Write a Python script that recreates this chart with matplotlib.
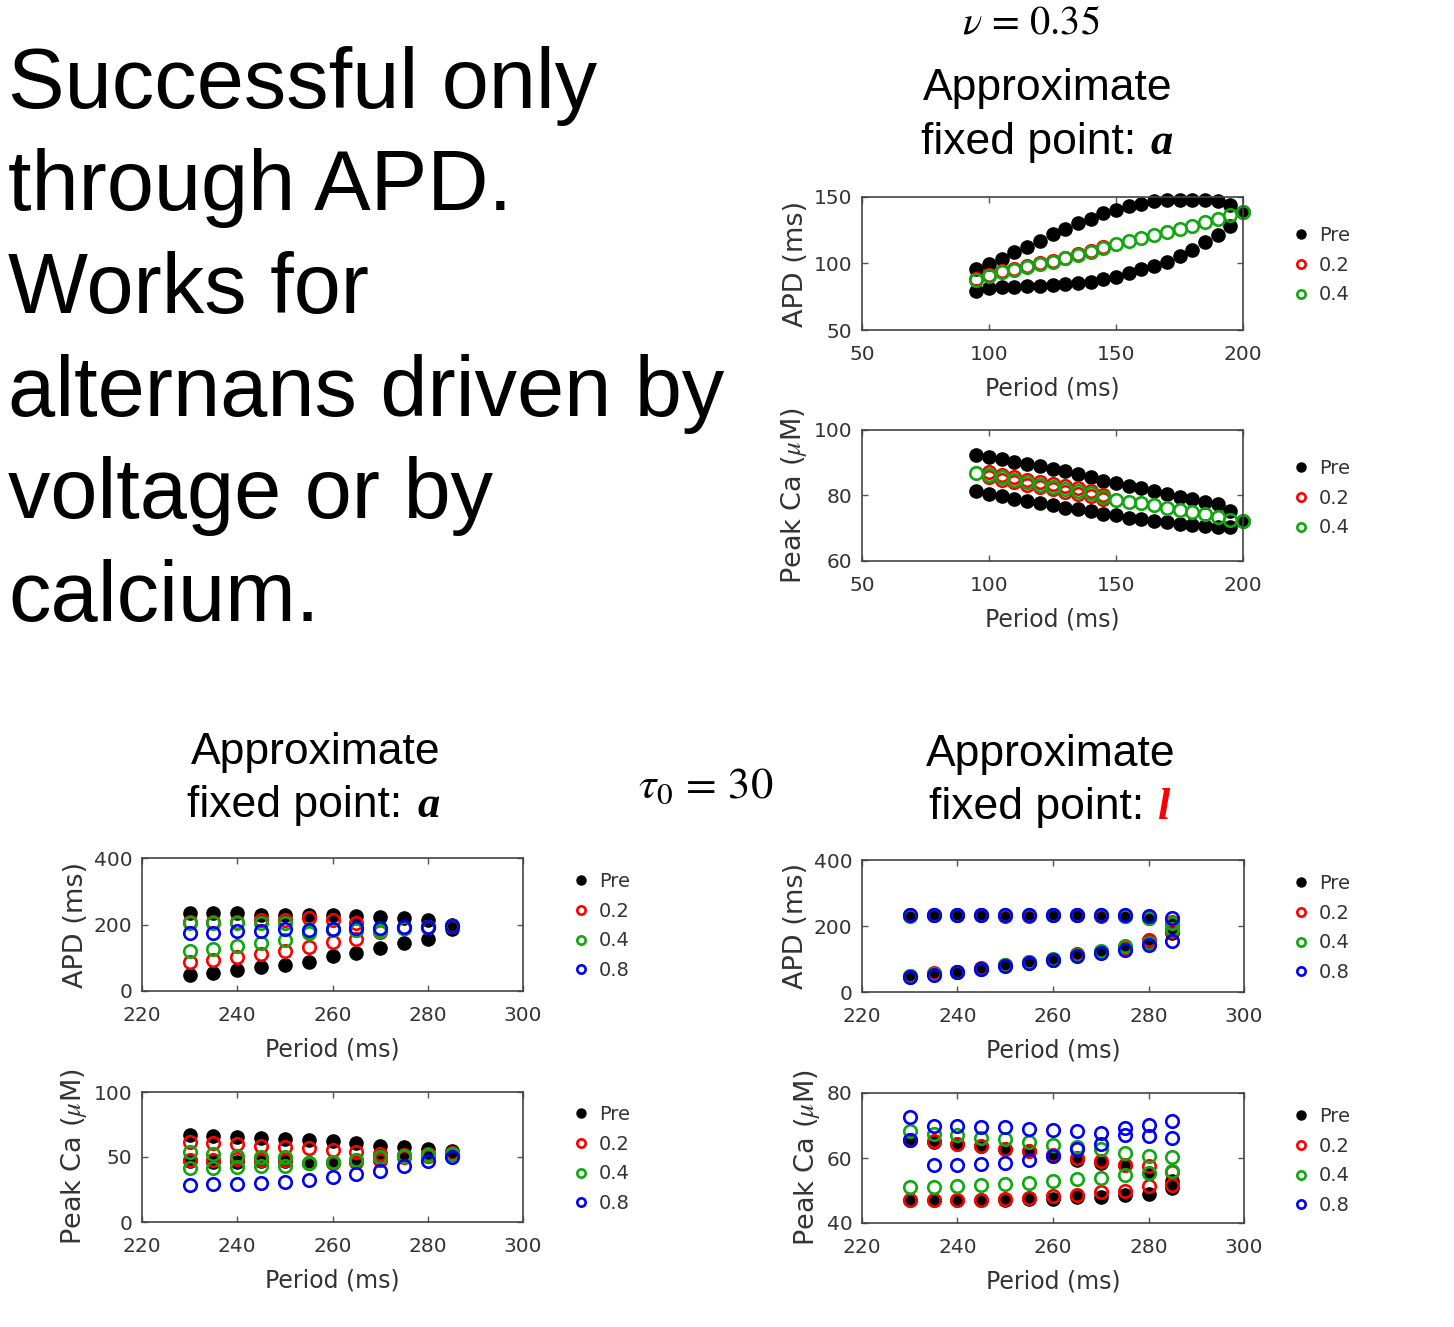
import matplotlib
matplotlib.use("Agg")
import matplotlib.pyplot as plt
from matplotlib.lines import Line2D

W, H = 1454, 1327
plt.rcParams['mathtext.fontset'] = 'stix'

# ---- data: nu = 0.35, fixed point a (top right) ----
per_top = [95, 100, 105, 110, 115, 120, 125, 130, 135, 140, 145,
           150, 155, 160, 165, 170, 175, 180, 185, 190, 195, 200]
top_apd_pre_hi = [96, 99.7, 103.5, 108.3, 112.3, 116.6, 122.1, 125.9, 130.4, 133.4, 137.9,
                  140.5, 143, 144.7, 146.7, 147.5, 148, 148, 148, 146.7, 143.7, 138.4]
top_apd_pre_lo = [79.6, 81.4, 82.2, 82.7, 83.2, 83.4, 83.9, 84.4, 85.2, 86.4, 88.2,
                  90.2, 92.7, 95.7, 98.2, 101.5, 105.3, 110.3, 115.8, 121.6, 128.4, 138.4]
per_top_02 = [95, 100, 105, 110, 115, 120, 125, 130, 135, 140, 145]
top_apd_02 = [88.5, 91.5, 94, 95.5, 98, 100, 102, 104.5, 107, 109.5, 112.5]
top_apd_04 = [87.7, 90.7, 93.5, 95.2, 97.7, 99.7, 101.5, 104, 106.5, 109, 112,
              114.6, 117.1, 119.1, 121.6, 123.4, 125.9, 127.9, 130.9, 133.4, 136.7, 138.4]

top_ca_pre_hi = [92.3, 91.8, 91.0, 90.2, 89.7, 89.0, 88.1, 87.4, 86.6, 85.8, 84.5,
                 83.7, 83.0, 82.2, 81.5, 80.6, 79.6, 78.9, 78.0, 77.3, 75.3, 72.2]
top_ca_pre_lo = [81.4, 80.4, 79.9, 78.9, 78.4, 77.8, 77.0, 76.3, 75.8, 75.3, 74.4,
                 73.9, 73.2, 72.7, 72.2, 71.9, 71.3, 70.9, 70.6, 70.3, 70.3, 72.2]
per_top_ca_02 = [100, 105, 110, 115, 120, 125, 130, 135, 140, 145]
top_ca_02_hi = [87.1, 86.4, 85.6, 84.8, 84.1, 83.5, 82.8, 82.2, 81.5, 80.3]
top_ca_02_lo = [85.6, 84.8, 84.0, 83.2, 82.5, 81.9, 81.2, 80.6, 79.9, 79.0]
top_ca_04 = [86.9, 86.4, 85.6, 84.8, 84.0, 83.3, 82.7, 82.0, 81.4, 80.7, 79.6,
             78.7, 78.1, 77.6, 77.0, 76.3, 75.6, 75.1, 74.2, 73.5, 72.5, 72.2]

# ---- data: tau0 = 30 ----
per_bot = [230, 235, 240, 245, 250, 255, 260, 265, 270, 275, 280, 285]

# fixed point a (bottom left)
bl_apd_pre_hi = [234, 234, 234, 229, 229, 229, 229, 227, 224, 221, 214, 200]
bl_apd_pre_lo = [48, 53, 63, 73, 78, 88, 104, 114, 129, 144, 157, 185]
bl_apd_02_hi = [209, 209, 209, 214, 214, 219, 214, 204, 182, 190, 192, 194]
bl_apd_02_lo = [88, 94, 101, 111, 121, 132, 147, 157, 178, 190, 192, 194]
bl_apd_04_hi = [206, 206, 206, 206, 206, 181, 186, 184, 181, 190, 192, 194]
bl_apd_04_lo = [119, 127, 134, 144, 154, 174, 184, 184, 181, 190, 192, 194]
bl_apd_08 = [174, 174, 179, 181, 186, 184, 186, 189, 189, 191, 191, 194]

bl_ca_pre_hi = [66.8, 66.3, 65.6, 64.5, 63.8, 63.0, 62.0, 60.5, 58.7, 57.9, 56.1, 54.8]
bl_ca_pre_lo = [47.2, 46.4, 46.4, 47.2, 47.2, 45.4, 45.4, 46.4, 48.0, 49.7, 51.0, 52.3]
bl_ca_02_hi = [61.2, 60.7, 59.9, 58.7, 57.9, 56.6, 55.4, 53.6, 52.3, 51.5, 52.5, 53.0]
bl_ca_02_lo = [48.0, 48.0, 48.5, 48.0, 48.0, 45.4, 45.4, 46.4, 48.0, 49.7, 51.0, 52.3]
bl_ca_04_hi = [53.6, 52.3, 51.0, 49.7, 49.7, 45.4, 46.4, 48.0, 49.7, 50.5, 51.5, 52.5]
bl_ca_04_lo = [41.3, 41.3, 42.1, 42.9, 43.4, 45.4, 46.4, 48.0, 49.7, 50.5, 51.5, 52.5]
bl_ca_08 = [28.8, 29.3, 29.3, 30.1, 30.6, 32.4, 34.4, 37.0, 39.5, 42.9, 46.7, 50.3]

# fixed point l (bottom right)
br_apd_pre_hi = [233, 233, 233, 233, 233, 233, 233, 233, 232, 232, 228, 207]
br_apd_pre_lo = [46, 56, 61, 71, 81, 89, 98, 113, 121, 134, 152, 178]
br_apd_02_hi = [233, 233, 233, 232, 231, 231, 233, 233, 230, 231, 225, 212]
br_apd_02_lo = [47, 57, 62, 74, 82, 90, 97, 116, 120, 133, 157, 185]
br_apd_04_hi = [231, 233, 233, 233, 233, 233, 233, 232, 232, 229, 224, 208]
br_apd_04_lo = [48, 56, 62, 71, 83, 90, 100, 112, 124, 138, 150, 190]
br_apd_08_hi = [233, 233, 233, 233, 233, 233, 233, 233, 233, 233, 231, 223]
br_apd_08_lo = [44, 53, 60, 69, 79, 88, 96, 109, 117, 128, 143, 154]

br_ca_pre_hi = [65.6, 64.9, 64.3, 63.6, 62.8, 62.1, 60.5, 59.5, 58.5, 58.0, 55.4, 52.8]
br_ca_pre_lo = [47.2, 47.2, 47.2, 47.2, 47.2, 47.4, 47.4, 47.9, 47.9, 48.5, 48.9, 50.8]
br_ca_02_hi = [65.6, 65.1, 64.3, 63.6, 62.8, 62.1, 61.0, 60.0, 59.0, 58.0, 57.4, 55.7]
br_ca_02_lo = [47.2, 47.2, 47.2, 47.2, 47.4, 47.7, 48.2, 48.5, 49.5, 49.9, 51.3, 51.8]
br_ca_04_hi = [68.4, 67.4, 67.0, 66.2, 65.8, 64.9, 64.1, 63.3, 62.8, 61.5, 60.7, 60.2]
br_ca_04_lo = [51.0, 51.1, 51.3, 51.8, 52.1, 52.3, 52.8, 53.5, 53.8, 54.7, 55.4, 56.1]
br_ca_08_hi = [72.6, 69.9, 69.7, 69.4, 69.4, 69.0, 68.7, 68.2, 67.7, 69.2, 70.3, 71.3]
br_ca_08_lo = [65.6, 58.0, 58.0, 58.2, 58.5, 59.5, 60.5, 62.9, 64.3, 67.2, 66.7, 66.2]

intro_lines = ["Successful only", "through APD.", "Works for",
               "alternans driven by", "voltage or by", "calcium."]
labels3 = ['Pre', '0.2', '0.4']
labels4 = ['Pre', '0.2', '0.4', '0.8']
RED, GREEN, BLUE = '#ff0000', '#10a810', '#0000ff'
TXT = '#333333'


def fx(px):
    return px / W


def fy(py):
    return 1 - py / H


def add_axes(left, top, right, bottom):
    return fig.add_axes([fx(left), fy(bottom), (right - left) / W, (bottom - top) / H])


def pre(ax, x, y):
    ax.plot(x, y, 'o', color='k', markersize=9.5, linestyle='none', clip_on=False)


def ring(ax, x, y, c):
    ax.plot(x, y, 'o', mfc='none', mec=c, mew=1.9, markersize=9, linestyle='none', clip_on=False)


def style(ax, xlim, xticks, ylim, yticks, ylabel):
    ax.set_xlim(xlim)
    ax.set_ylim(ylim)
    ax.set_xticks(xticks)
    ax.set_yticks(yticks)
    ax.tick_params(direction='in', top=True, right=True, length=4, width=1,
                   color='#555555', labelcolor=TXT, labelsize=14.5)
    ax.tick_params(axis='x', pad=11)
    ax.tick_params(axis='y', pad=7)
    for s in ax.spines.values():
        s.set_color('#444444')
        s.set_linewidth(1.2)
    ax.set_xlabel('Period (ms)', fontsize=17, color=TXT, labelpad=9)
    ax.set_ylabel(ylabel, fontsize=19.5, color=TXT, labelpad=3)


def legend(ax, labels, left, top):
    handles = [Line2D([], [], marker='o', linestyle='none', color='k', markersize=6.5)]
    for c in [RED, GREEN, BLUE][:len(labels) - 1]:
        handles.append(Line2D([], [], marker='o', linestyle='none', mfc='none',
                              mec=c, mew=1.9, markersize=6))
    ax.legend(handles, labels, loc='upper left', bbox_to_anchor=(fx(left), fy(top)),
              bbox_transform=fig.transFigure, frameon=False, fontsize=14,
              labelcolor=TXT, handlelength=1.0, handletextpad=0.45,
              labelspacing=0.55, borderpad=0, borderaxespad=0)


fig = plt.figure(figsize=(W / 100, H / 100), dpi=100)

# left block of text, one baseline per line
for i, line in enumerate(intro_lines):
    fig.text(fx(8), fy(108 + i * 102.5), line, family='Liberation Sans', fontsize=61,
             ha='left', va='baseline')

# headings
fig.text(fx(962), fy(34), r"$\nu\,=\,0.35$", fontsize=29, ha='left', va='baseline')
fig.text(fx(1048), fy(100), "Approximate", family='Liberation Sans', fontsize=32, ha='center', va='baseline')
fig.text(fx(921), fy(154), "fixed point: ", family='Liberation Sans', fontsize=32, ha='left', va='baseline')
fig.text(fx(1150), fy(154), "a", family='Liberation Serif', fontsize=32, weight='bold',
         style='italic', ha='left', va='baseline')

fig.text(fx(638), fy(798), r"$\tau_0\,=\,30$", fontsize=32, ha='left', va='baseline')

fig.text(fx(316), fy(764), "Approximate", family='Liberation Sans', fontsize=32, ha='center', va='baseline')
fig.text(fx(187), fy(817), "fixed point: ", family='Liberation Sans', fontsize=32, ha='left', va='baseline')
fig.text(fx(417), fy(817), "a", family='Liberation Serif', fontsize=32, weight='bold',
         style='italic', ha='left', va='baseline')

fig.text(fx(1051), fy(766), "Approximate", family='Liberation Sans', fontsize=32, ha='center', va='baseline')
fig.text(fx(929), fy(819), "fixed point: ", family='Liberation Sans', fontsize=32, ha='left', va='baseline')
fig.text(fx(1157), fy(819), "l", family='Liberation Serif', fontsize=32, weight='bold',
         style='italic', color=RED, ha='left', va='baseline')

# top right APD
ax = add_axes(862, 197, 1243, 330)
pre(ax, per_top, top_apd_pre_hi)
pre(ax, per_top, top_apd_pre_lo)
ring(ax, per_top_02, top_apd_02, RED)
ring(ax, per_top, top_apd_04, GREEN)
style(ax, (50, 200), [50, 100, 150, 200], (50, 150), [50, 100, 150], 'APD (ms)')
legend(ax, labels3, 1291, 226)

# top right Ca
ax = add_axes(862, 430, 1243, 561)
pre(ax, per_top, top_ca_pre_hi)
pre(ax, per_top, top_ca_pre_lo)
ring(ax, per_top_ca_02, top_ca_02_hi, RED)
ring(ax, per_top_ca_02, top_ca_02_lo, RED)
ring(ax, per_top, top_ca_04, GREEN)
style(ax, (50, 200), [50, 100, 150, 200], (60, 100), [60, 80, 100], r'Peak Ca ($\mu$M)')
legend(ax, labels3, 1291, 459)

# bottom left APD
ax = add_axes(142, 858, 523, 991)
pre(ax, per_bot, bl_apd_pre_hi)
pre(ax, per_bot, bl_apd_pre_lo)
ring(ax, per_bot, bl_apd_02_hi, RED)
ring(ax, per_bot, bl_apd_02_lo, RED)
ring(ax, per_bot, bl_apd_04_hi, GREEN)
ring(ax, per_bot, bl_apd_04_lo, GREEN)
ring(ax, per_bot, bl_apd_08, BLUE)
style(ax, (220, 300), [220, 240, 260, 280, 300], (0, 400), [0, 200, 400], 'APD (ms)')
legend(ax, labels4, 571, 872)

# bottom left Ca
ax = add_axes(142, 1092, 523, 1222)
pre(ax, per_bot, bl_ca_pre_hi)
pre(ax, per_bot, bl_ca_pre_lo)
ring(ax, per_bot, bl_ca_02_hi, RED)
ring(ax, per_bot, bl_ca_02_lo, RED)
ring(ax, per_bot, bl_ca_04_hi, GREEN)
ring(ax, per_bot, bl_ca_04_lo, GREEN)
ring(ax, per_bot, bl_ca_08, BLUE)
style(ax, (220, 300), [220, 240, 260, 280, 300], (0, 100), [0, 50, 100], r'Peak Ca ($\mu$M)')
legend(ax, labels4, 571, 1105)

# bottom right APD
ax = add_axes(862, 860, 1244, 992)
pre(ax, per_bot, br_apd_pre_hi)
pre(ax, per_bot, br_apd_pre_lo)
ring(ax, per_bot, br_apd_02_hi, RED)
ring(ax, per_bot, br_apd_02_lo, RED)
ring(ax, per_bot, br_apd_04_hi, GREEN)
ring(ax, per_bot, br_apd_04_lo, GREEN)
ring(ax, per_bot, br_apd_08_hi, BLUE)
ring(ax, per_bot, br_apd_08_lo, BLUE)
style(ax, (220, 300), [220, 240, 260, 280, 300], (0, 400), [0, 200, 400], 'APD (ms)')
legend(ax, labels4, 1291, 874)

# bottom right Ca
ax = add_axes(862, 1093, 1244, 1223)
pre(ax, per_bot, br_ca_pre_hi)
pre(ax, per_bot, br_ca_pre_lo)
ring(ax, per_bot, br_ca_02_hi, RED)
ring(ax, per_bot, br_ca_02_lo, RED)
ring(ax, per_bot, br_ca_04_hi, GREEN)
ring(ax, per_bot, br_ca_04_lo, GREEN)
ring(ax, per_bot, br_ca_08_hi, BLUE)
ring(ax, per_bot, br_ca_08_lo, BLUE)
style(ax, (220, 300), [220, 240, 260, 280, 300], (40, 80), [40, 60, 80], r'Peak Ca ($\mu$M)')
legend(ax, labels4, 1291, 1107)

fig.savefig('out.png', dpi=100)
